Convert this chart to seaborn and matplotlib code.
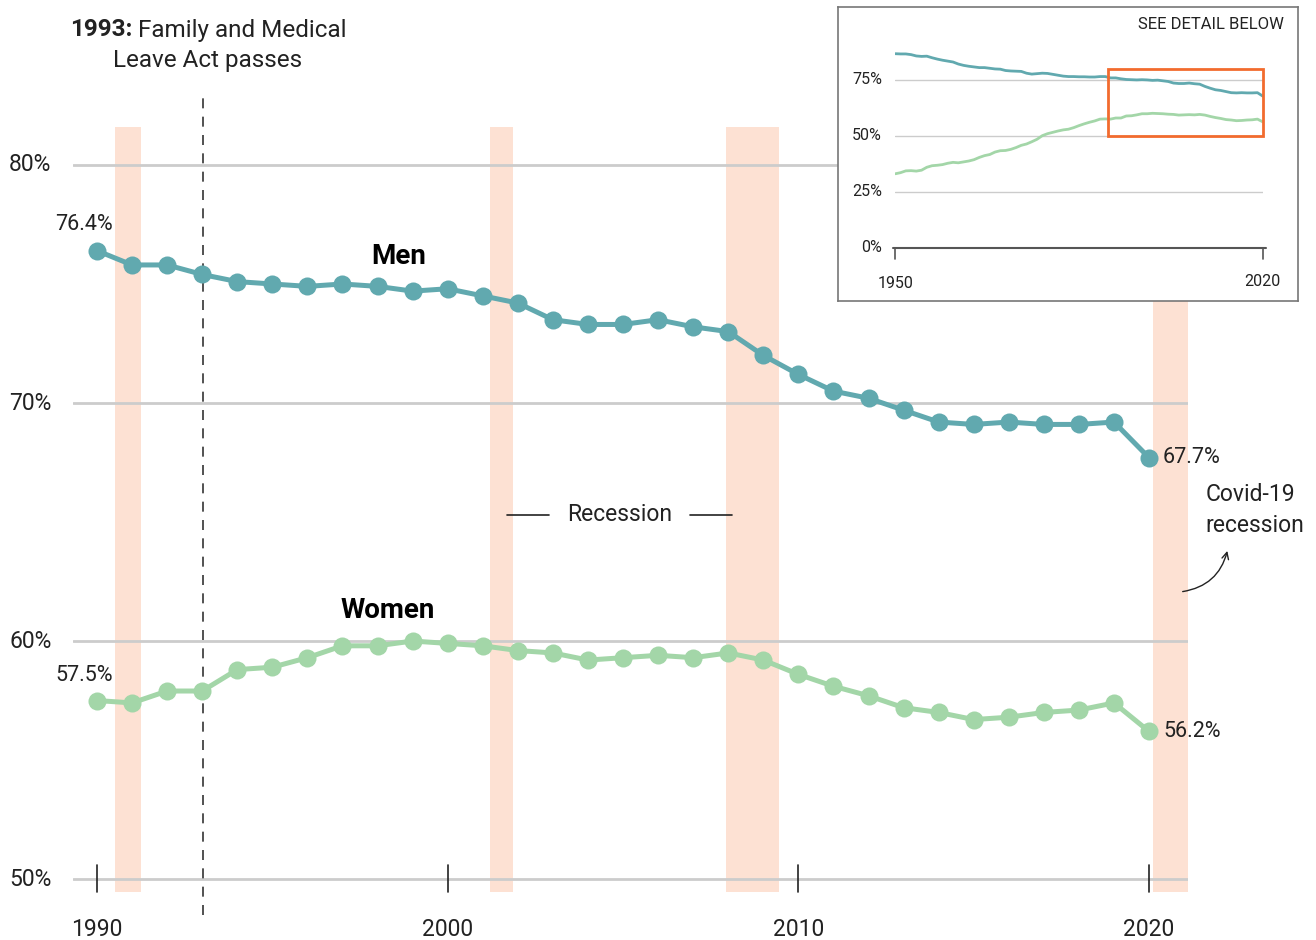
import matplotlib
matplotlib.use("Agg")
import matplotlib.pyplot as plt
import seaborn as sns
import pandas as pd
from matplotlib.patches import Rectangle

# main chart data: labour force participation rate, 1990-2020
years = list(range(1990, 2021))
men = [76.4, 75.8, 75.8, 75.4, 75.1, 75.0, 74.9, 75.0, 74.9, 74.7,
       74.8, 74.5, 74.2, 73.5, 73.3, 73.3, 73.5, 73.2, 73.0, 72.0,
       71.2, 70.5, 70.2, 69.7, 69.2, 69.1, 69.2, 69.1, 69.1, 69.2, 67.7]
women = [57.5, 57.4, 57.9, 57.9, 58.8, 58.9, 59.3, 59.8, 59.8, 60.0,
         59.9, 59.8, 59.6, 59.5, 59.2, 59.3, 59.4, 59.3, 59.5, 59.2,
         58.6, 58.1, 57.7, 57.2, 57.0, 56.7, 56.8, 57.0, 57.1, 57.4, 56.2]

# inset data, 1950-1989 (then continues with the main series)
early_years = list(range(1950, 1990))
men_early = [86.6, 86.5, 86.5, 86.2, 85.6, 85.4, 85.5, 84.8, 84.2, 83.7,
             83.3, 82.9, 82.0, 81.4, 81.0, 80.7, 80.4, 80.4, 80.1, 79.8,
             79.7, 79.1, 78.9, 78.8, 78.7, 77.9, 77.5, 77.7, 77.9, 77.8,
             77.4, 77.0, 76.6, 76.4, 76.4, 76.3, 76.3, 76.2, 76.2, 76.4]
women_early = [33.0, 33.5, 34.3, 34.4, 34.2, 34.6, 35.9, 36.6, 36.8, 37.1,
               37.7, 38.1, 37.9, 38.3, 38.7, 39.3, 40.3, 41.1, 41.6, 42.7,
               43.3, 43.4, 43.9, 44.7, 45.7, 46.3, 47.3, 48.4, 50.0, 50.9,
               51.5, 52.1, 52.6, 52.9, 53.6, 54.5, 55.3, 56.0, 56.6, 57.4]

recessions = [(1990.5, 1991.25), (2001.2, 2001.87), (2007.95, 2009.45), (2020.1, 2021.1)]
y_ticks = [50, 60, 70, 80]
y_labels = ["50%", "60%", "70%", "80%"]
x_ticks = [1990, 2000, 2010, 2020]

MEN_C = "#61a9af"
WOMEN_C = "#a3d6a8"
BAND_C = "#fde1d3"
GRID_C = "#cccccc"
TXT = "#222222"

sns.set_theme(style="white")
plt.rcParams["font.family"] = ["Roboto", "DejaVu Sans"]

fig = plt.figure(figsize=(13.16, 9.40), dpi=100)
ax = fig.add_axes([73 / 1316, 1 - 915 / 940, 1115 / 1316, 820 / 940])
ax.set_xlim(1989.316, 2021.11)
ax.set_ylim(48.49, 82.94)
ax.axis("off")

for a, b in recessions:
    ax.fill_between([a, b], 49.45, 81.6, color=BAND_C, lw=0, zorder=0)
for v in y_ticks:
    ax.axhline(v, color=GRID_C, lw=2, zorder=1)
for t in x_ticks:
    ax.plot([t, t], [49.45, 50.6], color=TXT, lw=1.2, zorder=2)
    ax.text(t, 48.35, str(t), ha="center", va="top", fontsize=16.5, color=TXT)
for v, lab in zip(y_ticks, y_labels):
    ax.text(1988.7, v, lab, ha="right", va="center", fontsize=16.5, color=TXT)

ax.plot([1993.02, 1993.02], [48.5, 82.94], color="#333333", lw=1.2,
        ls=(0, (6, 5)), zorder=2)

df = pd.DataFrame({"year": years * 2, "rate": men + women,
                   "sex": ["Men"] * len(years) + ["Women"] * len(years)})
sns.lineplot(data=df, x="year", y="rate", hue="sex",
             palette={"Men": MEN_C, "Women": WOMEN_C}, marker="o",
             markersize=13, markeredgewidth=0, linewidth=3.6,
             legend=False, ax=ax, zorder=3)

ax.text(1990.45, 77.5, "76.4%", ha="right", va="center", fontsize=15.5, color=TXT)
ax.text(1990.45, 58.57, "57.5%", ha="right", va="center", fontsize=15.5, color=TXT)
ax.text(2020.4, 67.7, "67.7%", ha="left", va="center", fontsize=15.5, color=TXT)
ax.text(2020.4, 56.2, "56.2%", ha="left", va="center", fontsize=15.5, color=TXT)
ax.text(1998.6, 76.15, "Men", ha="center", va="center", fontsize=20,
        fontweight="bold", color="black")
ax.text(1998.3, 61.3, "Women", ha="center", va="center", fontsize=20,
        fontweight="bold", color="black")

ax.plot([2001.69, 2002.89], [65.3, 65.3], color=TXT, lw=1.2)
ax.plot([2006.91, 2008.11], [65.3, 65.3], color=TXT, lw=1.2)
ax.text(2004.9, 65.3, "Recession", ha="center", va="center", fontsize=16.5, color=TXT)

ax.text(2021.6, 65.5, "Covid-19\nrecession", ha="left", va="center",
        fontsize=16.5, color=TXT, linespacing=1.45)
ax.annotate("", xy=(2022.25, 63.9), xytext=(2020.88, 62.06),
            arrowprops=dict(arrowstyle="->", color=TXT, lw=1,
                            connectionstyle="arc3,rad=0.35"),
            annotation_clip=False)

t1 = fig.text(70 / 1316, 1 - 30 / 940, "1993:", ha="left", va="center",
              fontsize=17.5, fontweight="bold", color=TXT)
fig.canvas.draw()
bb = t1.get_window_extent()
fig.text((bb.x1 + 6) / 1316, 1 - 30 / 940, "Family and Medical", ha="left",
         va="center", fontsize=17.5, color=TXT)
fig.text(113 / 1316, 1 - 60 / 940, "Leave Act passes", ha="left", va="center",
         fontsize=17.5, color=TXT)

# inset box
box = fig.add_axes([838 / 1316, 1 - 301 / 940, 460 / 1316, 294 / 940])
box.set_xticks([])
box.set_yticks([])
box.set_facecolor("white")
for s in box.spines.values():
    s.set_color("#777777")
    s.set_linewidth(1.2)
box.text(0.97, 0.94, "SEE DETAIL BELOW", transform=box.transAxes, ha="right",
         va="center", fontsize=12, color=TXT)

ins = fig.add_axes([895.3 / 1316, 1 - 247.7 / 940, 367.4 / 1316, 224 / 940])
ins.patch.set_alpha(0)
ins.set_xlim(1950, 2020)
ins.set_ylim(0, 100)
for s in ins.spines.values():
    s.set_visible(False)
for v in [25, 50, 75]:
    ins.axhline(v, color=GRID_C, lw=1, zorder=1)
ins.plot([1949.6, 2020.7], [0, 0], color="#555555", lw=1.5, clip_on=False)
for t in [1950, 2020]:
    ins.plot([t, t], [0, -5], color="#555555", lw=1.2, clip_on=False)
ins.set_xticks([])
ins.set_yticks([])
for v, lab in zip([0, 25, 50, 75], ["0%", "25%", "50%", "75%"]):
    ins.text(1947.5, v, lab, ha="right", va="center", fontsize=11.5, color=TXT)
ins.text(1950, -16, "1950", ha="center", va="center", fontsize=11.5, color=TXT)
ins.text(2020, -15, "2020", ha="center", va="center", fontsize=11.5, color=TXT)

inset_df = pd.DataFrame({"year": (early_years + years) * 2,
                         "rate": men_early + men + women_early + women,
                         "sex": ["Men"] * 71 + ["Women"] * 71})
sns.lineplot(data=inset_df, x="year", y="rate", hue="sex",
             palette={"Men": MEN_C, "Women": WOMEN_C}, linewidth=2,
             legend=False, ax=ins, zorder=3)
ins.set_xlabel("")
ins.set_ylabel("")
ins.add_patch(Rectangle((1990.5, 50), 29.5, 29.8, fill=False,
                        edgecolor="#f26b2e", lw=2, zorder=4, clip_on=False))

fig.savefig("out.png", dpi=100)
